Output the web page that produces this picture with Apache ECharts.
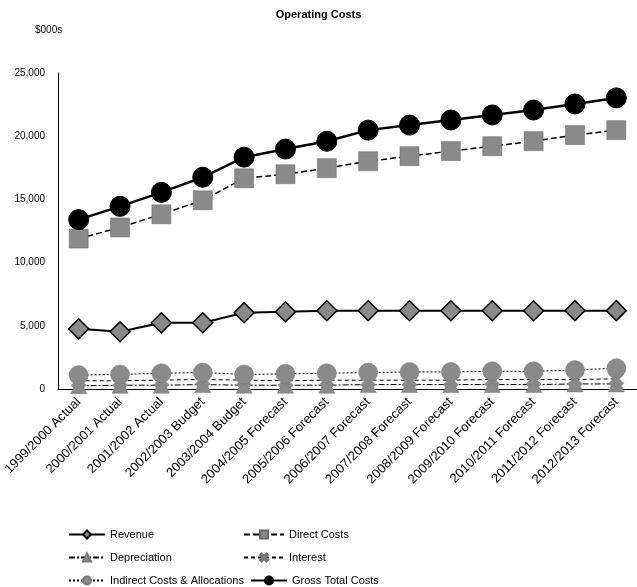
<!DOCTYPE html>
<html>
<head>
<meta charset="utf-8">
<script src="https://cdn.jsdelivr.net/npm/echarts@6/dist/echarts.min.js"></script>
<style>
  html, body { margin: 0; padding: 0; background: #fff; }
  #chart { width: 637px; height: 587px; }
</style>
</head>
<body>
<div id="chart"></div>
<script>
// Financial years shown on the category axis
const years = [
  '1999/2000 Actual', '2000/2001 Actual', '2001/2002 Actual', '2002/2003 Budget',
  '2003/2004 Budget', '2004/2005 Forecast', '2005/2006 Forecast', '2006/2007 Forecast',
  '2007/2008 Forecast', '2008/2009 Forecast', '2009/2010 Forecast', '2010/2011 Forecast',
  '2011/2012 Forecast', '2012/2013 Forecast'
];

// $000s per year
const revenue = [4760, 4530, 5240, 5240, 6030, 6110, 6190, 6190, 6190, 6190, 6190, 6190, 6200, 6200];
const directCosts = [11900, 12780, 13820, 14930, 16670, 16990, 17470, 18020, 18420, 18820, 19210, 19610, 20090, 20480];
const depreciation = [250, 300, 300, 350, 300, 300, 300, 350, 350, 350, 350, 350, 400, 400];
const interest = [650, 650, 700, 750, 700, 650, 700, 700, 700, 700, 750, 750, 750, 800];
const indirectCosts = [1100, 1150, 1250, 1300, 1150, 1200, 1250, 1300, 1350, 1350, 1400, 1400, 1500, 1650];
const grossTotalCosts = [13400, 14450, 15560, 16750, 18340, 18980, 19600, 20480, 20880, 21280, 21680, 22070, 22550, 23030];

const yTicks = { min: 0, max: 25000, interval: 5000 };

const FONT = 'Liberation Sans, Arial, sans-serif';
const GREY = '#8a8a8a';
const crossPath = 'path://M2,0 L5,3 L8,0 L10,2 L7,5 L10,8 L8,10 L5,7 L2,10 L0,8 L3,5 L0,2 Z';

function lineSeries(name, data, symbol, size, itemStyle, lineStyle) {
  return {
    name, type: 'line', data, symbol, symbolSize: size,
    itemStyle, lineStyle, emphasis: { disabled: true }, animation: false
  };
}

// One legend entry per slot, laid out as a two-column table
function legendItem(name, left, top, width) {
  return {
    data: [name], left, top, itemWidth: width, itemHeight: 10, itemGap: 0,
    textStyle: { fontFamily: FONT, fontSize: 11, color: '#000' }, selectedMode: false
  };
}

const chart = echarts.init(document.getElementById('chart'), null, { renderer: 'canvas' });

chart.setOption({
  backgroundColor: '#fff',
  animation: false,
  textStyle: { fontFamily: FONT, color: '#000' },
  title: [
    { text: 'Operating Costs', left: 'center', top: 4,
      textStyle: { fontFamily: FONT, fontSize: 11, fontWeight: 'bold', color: '#000' } },
    { text: '$000s', left: 30, top: 20,
      textStyle: { fontFamily: FONT, fontSize: 10, fontWeight: 'normal', color: '#000' } }
  ],
  grid: { left: 58, top: 73, width: 582, height: 316, containLabel: false },
  xAxis: {
    type: 'category', data: years, boundaryGap: true,
    axisLine: { show: true, lineStyle: { color: '#000', width: 1 } },
    axisTick: { show: false },
    axisLabel: { rotate: 45, fontSize: 13, color: '#000', fontFamily: FONT, margin: 11, interval: 0 },
    splitLine: { show: false }
  },
  yAxis: {
    type: 'value', min: yTicks.min, max: yTicks.max, interval: yTicks.interval,
    axisLine: { show: true, lineStyle: { color: '#000', width: 1 } },
    axisTick: { show: false },
    splitLine: { show: false },
    axisLabel: {
      fontSize: 10, color: '#000', fontFamily: FONT, margin: 13,
      formatter: v => v.toLocaleString('en-US')
    }
  },
  legend: [
    legendItem('Revenue', 63, 524, 36),
    legendItem('Depreciation', 63, 547, 36),
    legendItem('Indirect Costs & Allocations', 63, 570, 36),
    legendItem('Direct Costs', 238, 524, 40),
    legendItem('Interest', 238, 547, 40),
    legendItem('Gross Total Costs', 245, 570, 36)
  ],
  series: [
    lineSeries('Revenue', revenue, 'diamond', 20,
      { color: GREY, borderColor: '#000', borderWidth: 1.5 },
      { color: '#000', width: 2, type: 'solid' }),
    lineSeries('Direct Costs', directCosts, 'rect', 19,
      { color: GREY, borderColor: '#666', borderWidth: 0.5 },
      { color: '#000', width: 1.5, type: [6, 3] }),
    lineSeries('Depreciation', depreciation, 'triangle', 16,
      { color: GREY, borderColor: '#777', borderWidth: 0.5 },
      { color: '#000', width: 1, type: [6, 2, 2, 2] }),
    lineSeries('Interest', interest, crossPath, 15,
      { color: GREY, borderColor: '#777', borderWidth: 0.5 },
      { color: '#000', width: 1, type: [4, 3] }),
    lineSeries('Indirect Costs & Allocations', indirectCosts, 'circle', 19,
      { color: GREY, borderColor: '#777', borderWidth: 0.5 },
      { color: '#000', width: 1, type: [2, 2] }),
    lineSeries('Gross Total Costs', grossTotalCosts, 'circle', 20,
      { color: '#000', borderColor: '#000', borderWidth: 1 },
      { color: '#000', width: 2.5, type: 'solid' })
  ]
});
</script>
</body>
</html>
